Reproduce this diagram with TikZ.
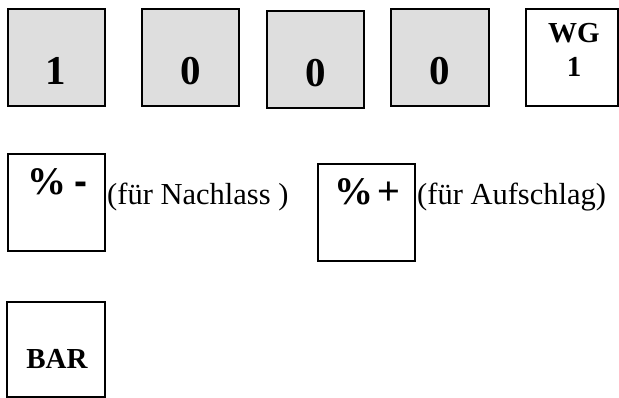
\documentclass[tikz,border=0pt]{standalone}
\usepackage{fontspec}
\setmainfont{Liberation Serif}
\newfontfamily\keysans{Liberation Sans}
\definecolor{keygray}{RGB}{222,222,222}
\tikzset{
  keybox/.style={draw=black, line width=1.3pt},
  graykey/.style={keybox, fill=keygray},
  bigdigit/.style={anchor=base, inner sep=0pt, font=\fontsize{41}{43}\selectfont\bfseries},
  keylabel/.style={anchor=base, inner sep=0pt, font=\fontsize{29}{31}\selectfont\bfseries},
  pctlabel/.style={anchor=base west, inner sep=0pt, font=\fontsize{39}{41}\selectfont\bfseries},
  note/.style={anchor=base west, inner sep=0pt, font=\fontsize{30.5}{32}\selectfont}
}
\begin{document}
\begin{tikzpicture}[x=1pt,y=-1pt]
\useasboundingbox (0,0) rectangle (619,398);
% top row
\draw[graykey] (8,9) rectangle (105,106) node[pos=0.5] (k1) {};
\draw[graykey] (142,9) rectangle (239,106) node[pos=0.5] (k2) {};
\draw[graykey] (267,11) rectangle (364,108) node[pos=0.5] (k3) {};
\draw[graykey] (391,9) rectangle (489,106) node[pos=0.5] (k4) {};
\draw[keybox] (526,9) rectangle (618,106) node[pos=0.5] (k5) {};
\node[bigdigit] (t1) at (56,85) {1};
\node[bigdigit] (t2) at (190.5,85) {0};
\node[bigdigit] (t3) at (315.5,87) {0};
\node[bigdigit] (t4) at (440,85) {0};
\node[keylabel] (wg) at (574,43) {WG};
\node[keylabel] (wg1) at (574,77) {1};
% second row
\draw[keybox] (8,154) rectangle (105,251) node[pos=0.5] (km) {};
\node[pctlabel] (pm) at (27,195) {\%\hspace{0.2em}{\keysans -}};
\node[note] (nm) at (107,205) {(für Nachlass )};
\draw[keybox] (318,164) rectangle (415,261) node[pos=0.5] (kp) {};
\node[pctlabel] (pp) at (334,205) {\%\hspace{0.12em}{\keysans\mdseries +}};
\node[note] (np) at (417,205) {(für Aufschlag)};
% third row
\draw[keybox] (7,302) rectangle (105,397) node[pos=0.5] (kb) {};
\node[keylabel] (bar) at (57,368) {BAR};
\end{tikzpicture}
\end{document}
